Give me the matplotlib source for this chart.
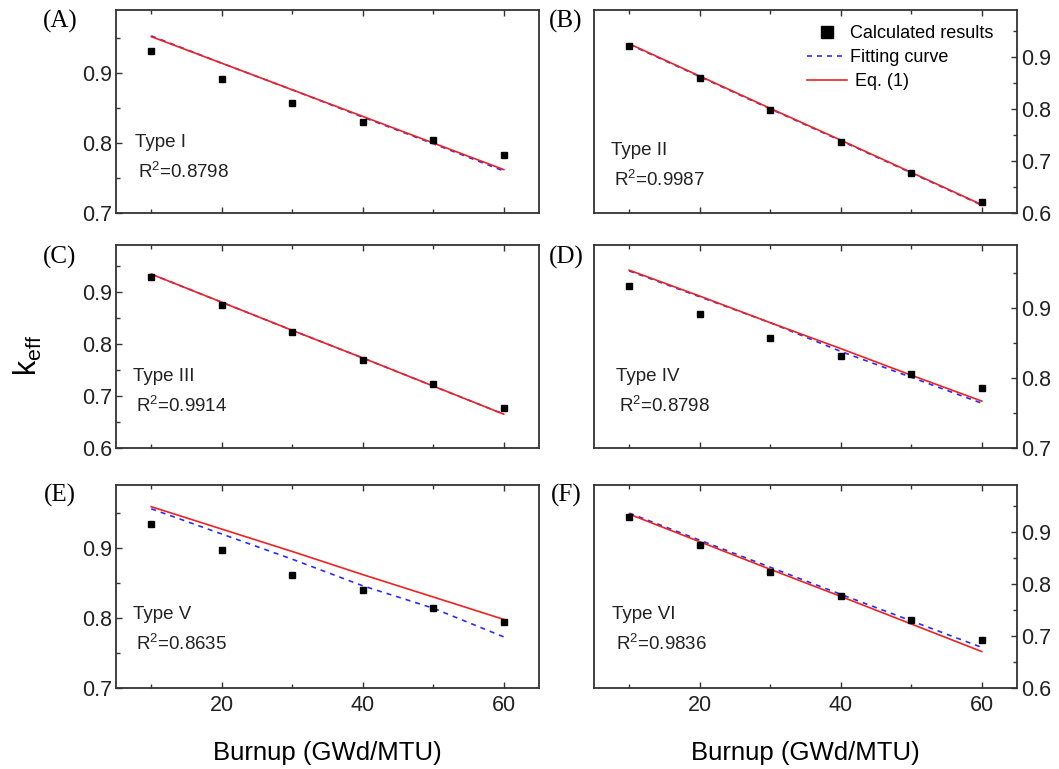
import matplotlib.pyplot as plt
import numpy as np
from matplotlib.ticker import MultipleLocator

plt.rcParams['font.family'] = ['Liberation Sans', 'DejaVu Sans']
plt.rcParams['mathtext.default'] = 'regular'

burnup = [10, 20, 30, 40, 50, 60]

panel_tags = ['(A)', '(B)', '(C)', '(D)', '(E)', '(F)']
type_names = ['Type I', 'Type II', 'Type III', 'Type IV', 'Type V', 'Type VI']
r2_values = ['0.8798', '0.9987', '0.9914', '0.8798', '0.8635', '0.9836']

# keff from the burnup calculations
calc_A = [0.932, 0.892, 0.857, 0.830, 0.804, 0.783]
calc_B = [0.920, 0.859, 0.798, 0.736, 0.676, 0.622]
calc_C = [0.928, 0.875, 0.822, 0.769, 0.723, 0.676]
calc_D = [0.932, 0.892, 0.857, 0.831, 0.805, 0.785]
calc_E = [0.934, 0.897, 0.862, 0.840, 0.815, 0.795]
calc_F = [0.928, 0.875, 0.823, 0.776, 0.731, 0.692]

# fitted curves
fit_A = [0.953, 0.914, 0.876, 0.837, 0.799, 0.760]
fit_B = [0.924, 0.862, 0.800, 0.739, 0.677, 0.615]
fit_C = [0.934, 0.880, 0.826, 0.773, 0.719, 0.665]
fit_D = [0.953, 0.916, 0.879, 0.838, 0.801, 0.764]
fit_E = [0.956, 0.920, 0.884, 0.846, 0.814, 0.773]
fit_F = [0.936, 0.884, 0.832, 0.780, 0.729, 0.678]

# Eq. (1) predictions
eq_A = [0.952, 0.914, 0.876, 0.838, 0.800, 0.762]
eq_B = [0.925, 0.863, 0.801, 0.740, 0.678, 0.616]
eq_C = [0.934, 0.880, 0.826, 0.773, 0.719, 0.665]
eq_D = [0.954, 0.917, 0.879, 0.842, 0.804, 0.767]
eq_E = [0.959, 0.927, 0.895, 0.862, 0.830, 0.798]
eq_F = [0.934, 0.881, 0.828, 0.776, 0.723, 0.670]

y_bottoms = [0.7, 0.6, 0.6, 0.7, 0.7, 0.6]

calcs = [calc_A, calc_B, calc_C, calc_D, calc_E, calc_F]
fits = [fit_A, fit_B, fit_C, fit_D, fit_E, fit_F]
eqs = [eq_A, eq_B, eq_C, eq_D, eq_E, eq_F]

W, H = 1059, 769
fig = plt.figure(figsize=(W / 100, H / 100), dpi=100)

col_left = [116, 594]
col_width = 423
row_top = [10, 245, 485]
row_height = 203

# text placement inside each panel (axes fraction)
type_pos = [(0.045, 0.345), (0.04, 0.31), (0.04, 0.35),
            (0.052, 0.35), (0.04, 0.364), (0.043, 0.364)]

spine_col = '#333333'

for i in range(6):
    row, col = divmod(i, 2)
    left = col_left[col] / W
    bottom = 1 - (row_top[row] + row_height) / H
    ax = fig.add_axes([left, bottom, col_width / W, row_height / H])

    ax.plot(burnup, calcs[i], 's', color='black', markersize=4.6,
            label='Calculated results', zorder=3)
    ax.plot(burnup, fits[i], '--', color='#2b2bff', lw=1.2,
            dashes=(3, 3), label='Fitting curve', zorder=2)
    ax.plot(burnup, eqs[i], '-', color='#ee2222', lw=1.2,
            label=' Eq. (1)', zorder=2)

    ax.set_xlim(5, 65)
    ax.set_ylim(y_bottoms[i], 0.99)
    ax.xaxis.set_major_locator(MultipleLocator(20))
    ax.xaxis.set_minor_locator(MultipleLocator(10))
    ax.yaxis.set_major_locator(MultipleLocator(0.1))
    ax.yaxis.set_minor_locator(MultipleLocator(0.05))
    ax.yaxis.set_major_formatter(plt.FuncFormatter(lambda v, p: f'{v:.1f}'))

    for s in ax.spines.values():
        s.set_color(spine_col)
        s.set_linewidth(1.3)

    ax.tick_params(which='both', direction='in', top=True, bottom=True,
                   color=spine_col, width=1.0, labelsize=15.5,
                   labelcolor='#222222')
    ax.tick_params(which='major', length=4)
    ax.tick_params(which='minor', length=3)
    if col == 0:
        ax.tick_params(axis='y', which='both', left=True, right=False,
                       labelleft=True, labelright=False, pad=3)
    else:
        ax.tick_params(axis='y', which='both', left=False, right=True,
                       labelleft=False, labelright=True, pad=3)
    ax.tick_params(axis='x', labelbottom=(row == 2), pad=5)

    tx, ty = type_pos[i]
    ax.text(tx, ty, type_names[i], transform=ax.transAxes, fontsize=13.5,
            va='center', ha='left', color='#222222')
    ax.text(tx + 0.008, ty - 0.145, 'R$^2$=' + r2_values[i],
            transform=ax.transAxes, fontsize=13.5, va='center', ha='left',
            color='#222222')

    tag_x = 60 if col == 0 else 566
    tag_y = [21, 257, 495][row]
    fig.text(tag_x / W, 1 - tag_y / H, panel_tags[i], fontsize=18,
             family='Liberation Serif', ha='center', va='center')

    if i == 1:
        ax.legend(loc='upper right', bbox_to_anchor=(0.945, 0.925),
                  frameon=False, fontsize=13, handlelength=2.2,
                  handletextpad=0.2, labelspacing=0.38, borderaxespad=0,
                  borderpad=0, markerscale=1.9)

fig.text(28 / W, 1 - 355 / H, 'k$_{eff}$', rotation=90, fontsize=22,
         ha='center', va='center')
for cx in [116 + col_width / 2, 594 + col_width / 2]:
    fig.text(cx / W, 1 - 753 / H, 'Burnup (GWd/MTU)', fontsize=18.5,
             ha='center', va='center')

fig.savefig('out.png', dpi=100)
